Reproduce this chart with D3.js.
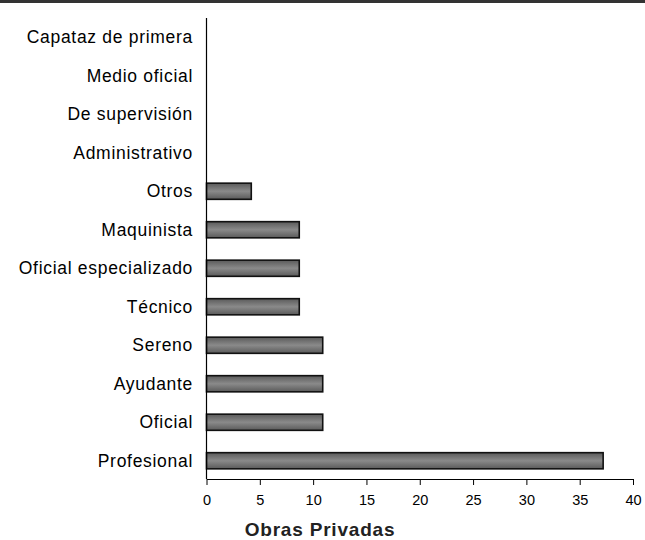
<!DOCTYPE html>
<html>
<head>
<meta charset="utf-8">
<script src="https://cdn.jsdelivr.net/npm/d3@7"></script>
<style>
  body { margin: 0; background: #fff; }
  svg { display: block; font-family: "Liberation Sans", Arial, sans-serif; }
</style>
</head>
<body>
<svg width="645" height="540"></svg>
<script>
  // Data (top to bottom)
  const categories = [
    "Capataz de primera", "Medio oficial", "De supervisión", "Administrativo",
    "Otros", "Maquinista", "Oficial especializado", "Técnico",
    "Sereno", "Ayudante", "Oficial", "Profesional"
  ];
  const values = [0, 0, 0, 0, 4.2, 8.7, 8.7, 8.7, 10.9, 10.9, 10.9, 37.2];
  const xTicks = [0, 5, 10, 15, 20, 25, 30, 35, 40];
  const xTitle = "Obras Privadas";

  const svg = d3.select("svg");

  // dark strip on top
  svg.append("rect")
    .attr("x", 0).attr("y", 0)
    .attr("width", 645).attr("height", 3)
    .attr("fill", "#333");

  const x = d3.scaleLinear().domain([0, 40]).range([206.5, 633]);
  const y = d3.scaleBand().domain(categories).range([18, 480]).paddingInner(0.58).paddingOuter(0.29);

  // gradient for bars
  const grad = svg.append("defs").append("linearGradient")
    .attr("id", "barGrad").attr("x1", 0).attr("y1", 0).attr("x2", 0).attr("y2", 1);
  grad.append("stop").attr("offset", "0%").attr("stop-color", "#5a5a5a");
  grad.append("stop").attr("offset", "50%").attr("stop-color", "#8a8a8a");
  grad.append("stop").attr("offset", "100%").attr("stop-color", "#5a5a5a");

  // bars
  svg.append("g")
    .selectAll("rect")
    .data(categories.map((c, i) => ({ c, v: values[i] })).filter(d => d.v > 0))
    .enter().append("rect")
      .attr("x", x(0))
      .attr("y", d => y(d.c))
      .attr("width", d => x(d.v) - x(0))
      .attr("height", y.bandwidth())
      .attr("fill", "url(#barGrad)")
      .attr("stroke", "#111")
      .attr("stroke-width", 1.6);

  // y axis line
  svg.append("line")
    .attr("x1", x(0)).attr("x2", x(0))
    .attr("y1", 18).attr("y2", 479)
    .attr("stroke", "#000").attr("stroke-width", 1.2);

  // category labels
  svg.append("g")
    .selectAll("text")
    .data(categories)
    .enter().append("text")
      .attr("x", 193)
      .attr("y", d => y(d) + y.bandwidth() / 2)
      .attr("dy", "0.35em")
      .attr("text-anchor", "end")
      .attr("font-size", 17.5)
      .attr("letter-spacing", 0.7)
      .attr("fill", "#000")
      .text(d => d);

  // x axis
  const xAxis = svg.append("g")
    .attr("transform", "translate(0,479)")
    .call(d3.axisBottom(x).tickValues(xTicks).tickSize(6).tickSizeOuter(0).tickPadding(10));
  xAxis.select(".domain").attr("stroke", "#000").attr("stroke-width", 1.2);
  xAxis.selectAll(".tick line").attr("stroke", "#000");
  xAxis.selectAll(".tick text")
    .attr("font-family", "\"Liberation Sans\", Arial, sans-serif")
    .attr("font-size", 14.5)
    .attr("fill", "#000");

  // axis title
  svg.append("text")
    .attr("x", 320)
    .attr("y", 536)
    .attr("text-anchor", "middle")
    .attr("font-size", 19)
    .attr("font-weight", "bold")
    .attr("letter-spacing", 0.8)
    .attr("fill", "#222")
    .text(xTitle);
</script>
</body>
</html>
